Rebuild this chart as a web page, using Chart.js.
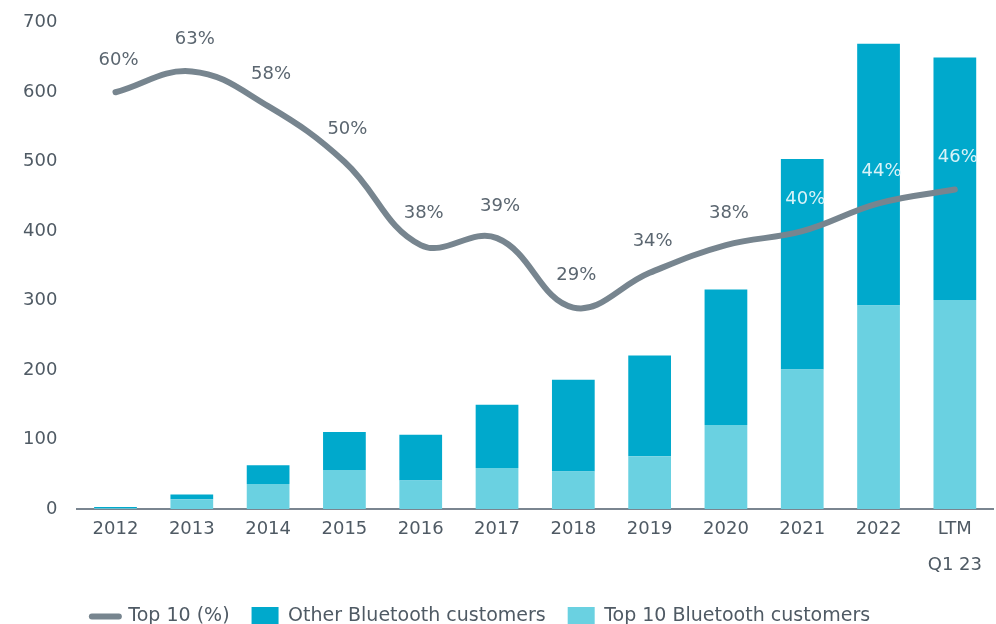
<!DOCTYPE html>
<html>
<head>
<meta charset="utf-8">
<script src="https://cdn.jsdelivr.net/npm/chart.js@4/dist/chart.umd.min.js"></script>
<style>
  html, body { margin: 0; padding: 0; background: #fff; overflow: hidden; }
  #wrap { width: 996px; height: 644px; margin-top: -8px; position: relative; }
</style>
</head>
<body>
<div id="wrap"><canvas id="chart"></canvas></div>
<script>
// chart data
const years = ['2012', '2013', '2014', '2015', '2016', '2017', '2018', '2019', '2020', '2021', '2022', ['LTM', 'Q1 23']];
const top10_customers = [1, 14, 36, 56, 41, 59, 54, 76, 121, 201, 293, 301];
const other_customers = [2, 7, 27, 55, 66, 91, 132, 145, 195, 303, 377, 349];
const top10_pct = [60, 63, 58, 50, 38, 39, 29, 34, 38, 40, 44, 46];

const text_color = '#4f5a64';
const font_family = "'DejaVu Sans', sans-serif";

// percent labels above the line
const pctLabels = {
  id: 'pctLabels',
  afterLayout(chart) {
    // legend sits a little left of centre in the original
    chart.legend.left -= 17;
    chart.legend.right -= 17;
  },
  afterDatasetsDraw(chart) {
    const ctx = chart.ctx;
    const lineMeta = chart.getDatasetMeta(2);
    const barMeta = chart.getDatasetMeta(1);
    ctx.save();
    ctx.font = '18px ' + font_family;
    ctx.textAlign = 'center';
    ctx.textBaseline = 'middle';
    lineMeta.data.forEach((pt, i) => {
      const y = pt.y - 32;
      const bar = barMeta.data[i];
      const inside = y > bar.y + 8;
      ctx.fillStyle = inside ? '#d9f3f8' : '#5b6670';
      ctx.fillText(top10_pct[i] + '%', pt.x + 3, y);
    });
    ctx.restore();
  }
};

new Chart(document.getElementById('chart'), {
  data: {
    labels: years,
    datasets: [
      {
        type: 'bar',
        label: 'Top 10 Bluetooth customers',
        data: top10_customers,
        backgroundColor: '#6ad1e1',
        yAxisID: 'y',
        order: 2
      },
      {
        type: 'bar',
        label: 'Other Bluetooth customers',
        data: other_customers,
        backgroundColor: '#00a9cc',
        yAxisID: 'y',
        order: 3
      },
      {
        type: 'line',
        label: 'Top 10 (%)',
        data: top10_pct,
        borderColor: '#77858f',
        backgroundColor: '#77858f',
        borderWidth: 6,
        borderCapStyle: 'round',
        tension: 0.4,
        pointRadius: 0,
        yAxisID: 'y2',
        order: 1
      }
    ]
  },
  options: {
    responsive: true,
    maintainAspectRatio: false,
    animation: false,
    layout: { padding: { left: 3, right: 3, top: 2, bottom: 0 } },
    datasets: {
      bar: { barPercentage: 0.56, categoryPercentage: 1 }
    },
    scales: {
      x: {
        stacked: true,
        grid: { display: false, drawTicks: false },
        border: { display: true, color: '#7a8590', width: 2 },
        ticks: {
          color: text_color,
          font: { family: font_family, size: 18, lineHeight: 2 },
          padding: 2,
          maxRotation: 0,
          autoSkip: false
        }
      },
      y: {
        stacked: true,
        min: 0,
        max: 700,
        grid: { display: false, drawTicks: false },
        border: { display: false },
        ticks: {
          stepSize: 100,
          color: text_color,
          font: { family: font_family, size: 18 },
          padding: 20
        }
      },
      y2: {
        display: false,
        min: 0,
        max: 70
      }
    },
    plugins: {
      tooltip: { enabled: false },
      legend: {
        position: 'bottom',
        labels: {
          usePointStyle: true,
          pointStyleWidth: 27,
          boxHeight: 21,
          padding: 22,
          color: text_color,
          font: { family: font_family, size: 19 },
          sort: (a, b) => b.datasetIndex - a.datasetIndex,
          generateLabels(chart) {
            const items = Chart.defaults.plugins.legend.labels.generateLabels(chart);
            items.forEach(item => {
              if (item.datasetIndex === 2) {
                item.pointStyle = 'line';
                item.lineWidth = 6;
                item.lineCap = 'round';
              } else {
                item.pointStyle = 'rect';
                item.lineWidth = 0;
              }
            });
            return items;
          }
        }
      }
    }
  },
  plugins: [pctLabels]
});
</script>
</body>
</html>
